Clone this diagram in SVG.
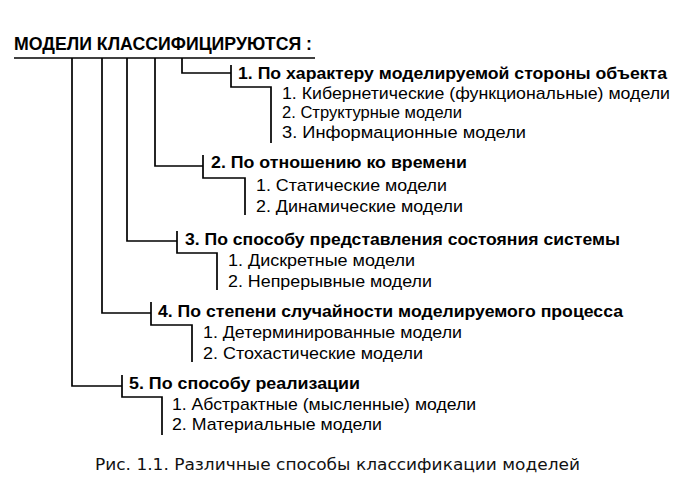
<svg xmlns="http://www.w3.org/2000/svg" width="695" height="494" viewBox="0 0 695 494">
<style>
.t{font-family:"Liberation Sans",Arial,sans-serif;fill:#000}
.h{font-size:17px;font-weight:bold}
.i{font-size:17px}
.title{font-size:19px;font-weight:bold}
.cap{font-family:"DejaVu Sans","Noto Sans",sans-serif;font-size:16.5px;fill:#111}
.c{fill:none;stroke:#000;stroke-width:1.7}
</style>
<rect width="695" height="494" fill="#fff"/>
<g id="title">
<text class="t title" x="14" y="50" textLength="298" lengthAdjust="spacingAndGlyphs">МОДЕЛИ КЛАССИФИЦИРУЮТСЯ :</text>
</g>
<g id="connectors">
<path class="c" d="M14 58H315" stroke-width="2"/>
<path class="c" d="M182 58V73H231M231 65V87H271V143"/>
<path class="c" d="M155 58V166H203M203 155V178H245V215"/>
<path class="c" d="M127 58V241H177M177 231V253H217V290"/>
<path class="c" d="M102 58V313H151M151 302V325H192V362"/>
<path class="c" d="M72 58V386H122M122 375V397H162V435"/>
</g>
<g id="cat1">
<text class="t h" x="238" y="79" textLength="429" lengthAdjust="spacingAndGlyphs">1. По характеру моделируемой стороны объекта</text>
<text class="t i" x="282" y="99" textLength="388" lengthAdjust="spacingAndGlyphs">1. Кибернетические (функциональные) модели</text>
<text class="t i" x="282" y="118" textLength="180" lengthAdjust="spacingAndGlyphs">2. Структурные модели</text>
<text class="t i" x="282" y="138" textLength="244" lengthAdjust="spacingAndGlyphs">3. Информационные модели</text>
</g>
<g id="cat2">
<text class="t h" x="211" y="168" textLength="256" lengthAdjust="spacingAndGlyphs">2. По отношению ко времени</text>
<text class="t i" x="256" y="191" textLength="191" lengthAdjust="spacingAndGlyphs">1. Статические модели</text>
<text class="t i" x="256" y="212" textLength="207" lengthAdjust="spacingAndGlyphs">2. Динамические модели</text>
</g>
<g id="cat3">
<text class="t h" x="185" y="245" textLength="435" lengthAdjust="spacingAndGlyphs">3. По способу представления состояния системы</text>
<text class="t i" x="228" y="266" textLength="187" lengthAdjust="spacingAndGlyphs">1. Дискретные модели</text>
<text class="t i" x="228" y="287" textLength="204" lengthAdjust="spacingAndGlyphs">2. Непрерывные модели</text>
</g>
<g id="cat4">
<text class="t h" x="158" y="317" textLength="465" lengthAdjust="spacingAndGlyphs">4. По степени случайности моделируемого процесса</text>
<text class="t i" x="203" y="338" textLength="259" lengthAdjust="spacingAndGlyphs">1. Детерминированные модели</text>
<text class="t i" x="203" y="359" textLength="220" lengthAdjust="spacingAndGlyphs">2. Стохастические модели</text>
</g>
<g id="cat5">
<text class="t h" x="129" y="389" textLength="231" lengthAdjust="spacingAndGlyphs">5. По способу реализации</text>
<text class="t i" x="172" y="410" textLength="304" lengthAdjust="spacingAndGlyphs">1. Абстрактные (мысленные) модели</text>
<text class="t i" x="172" y="430" textLength="210" lengthAdjust="spacingAndGlyphs">2. Материальные модели</text>
</g>
<g id="caption">
<text class="cap" x="95" y="470" textLength="485" lengthAdjust="spacingAndGlyphs">Рис. 1.1. Различные способы классификации моделей</text>
</g>
</svg>
